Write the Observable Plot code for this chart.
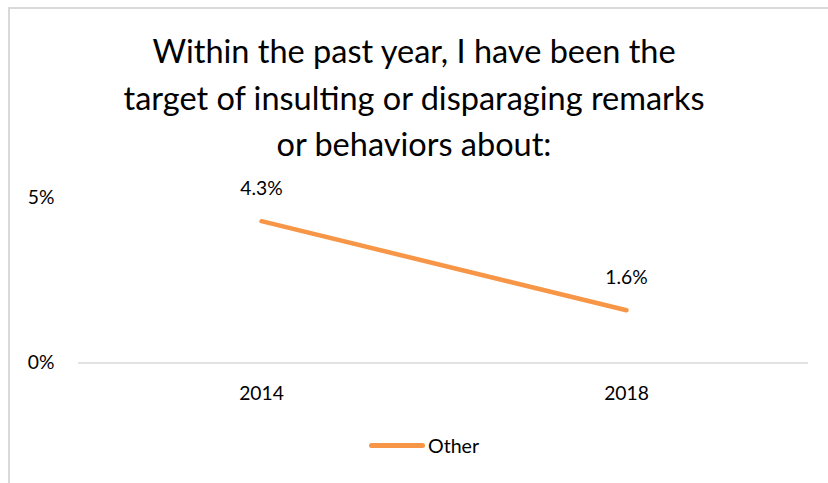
<!DOCTYPE html>
<html><head><meta charset="utf-8">
<script src="https://cdn.jsdelivr.net/npm/d3@7"></script>
<script src="https://cdn.jsdelivr.net/npm/@observablehq/plot@0.6"></script>
<style>
body{margin:0;background:#fff;font-family:Lato,"Open Sans",sans-serif;}
#wrap{position:relative;width:828px;height:483px;overflow:hidden;background:#fff;}
#frame{position:absolute;left:8px;top:7px;width:840px;height:500px;border-left:2px solid #d9d9d9;border-top:2px solid #d9d9d9;}
#title{position:absolute;left:0;top:28px;width:828px;text-align:center;font-size:32.5px;line-height:46.5px;color:#000;}
#chart{position:absolute;left:0;top:170px;}
#legend{position:absolute;left:369px;top:432px;font-size:19.6px;color:#000;display:flex;align-items:center;height:26px;}
#legend .sw{display:inline-block;width:56px;height:5px;border-radius:3px;background:#f79646;margin-right:3px;}
</style></head>
<body><div id="wrap"><div id="frame"></div>
<div id="title">Within the past year, I have been the<br>target of insulting or disparaging remarks<br>or behaviors about:</div>
<div id="chart"></div>
<div id="legend"><span class="sw"></span><span>Other</span></div>
</div>
<script>
const years = ["2014", "2018"];
const values = [4.3, 1.6];
const seriesName = "Other";
const yTicks = [0, 5];
const data = years.map((y, i) => ({year: y, value: values[i], series: seriesName}));
const plot = Plot.plot({
  width: 828, height: 250,
  marginLeft: 78, marginRight: 20, marginTop: 27.6, marginBottom: 57.5,
  style: {fontFamily: "Lato, 'Open Sans', sans-serif", fontSize: "19.3px", color: "#000", background: "transparent", overflow: "visible"},
  x: {type: "point", domain: years, padding: 0.5, label: null},
  y: {domain: [0, 5], label: null},
  marks: [
    Plot.ruleY([0], {stroke: "#d9d9d9", strokeWidth: 1.5}),
    Plot.axisY({ticks: yTicks, tickSize: 0, tickPadding: 24, tickFormat: d => d + "%", fontSize: 19.3, label: null}),
    Plot.axisX({tickSize: 0, tickPadding: 23, fontSize: 19.3, label: null}),
    Plot.line(data, {x: "year", y: "value", stroke: "#f79646", strokeWidth: 4.5, strokeLinecap: "round"}),
    Plot.text(data, {x: "year", y: "value", text: d => d.value.toFixed(1) + "%", dy: -32, fontSize: 19.3, fill: "#000"})
  ]
});
document.getElementById("chart").appendChild(plot);
</script></body></html>
